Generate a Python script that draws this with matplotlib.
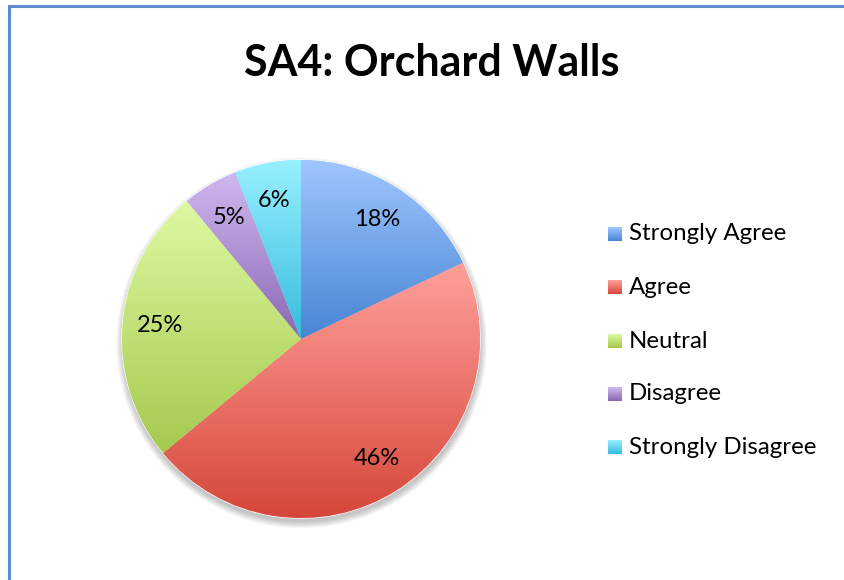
import numpy as np
import matplotlib
matplotlib.use("Agg")
import matplotlib.pyplot as plt
from matplotlib.patches import Rectangle, Circle
from matplotlib.colors import to_rgb

categories = ["Strongly Agree", "Agree", "Neutral", "Disagree", "Strongly Disagree"]
values = [18, 46, 25, 5, 6]
title = "SA4: Orchard Walls"
top_colors = ["#a0c6ff", "#ffa09b", "#def9a2", "#cfb8f0", "#98f0ff"]
bottom_colors = ["#4785d3", "#d6473a", "#a5c94e", "#8a68b3", "#37bcdd"]

W, H = 845, 580
fig = plt.figure(figsize=(W / 100, H / 100), dpi=100)
FONT = "Lato"

# chart frame
fig.patches.append(Rectangle((9 / W, -0.1), 1.2, (H - 6) / H + 0.1, transform=fig.transFigure,
                             fill=False, edgecolor="#5b8bd0", linewidth=2.2, zorder=0))

fig.text(432 / W, 1 - 63 / H, title, ha="center", va="center", fontsize=31,
         fontweight="bold", family=FONT)

cx, cy, r = 301, 339, 179
pad = 1.15
ax = fig.add_axes([(cx - r * pad) / W, (H - cy - r * pad) / H, 2 * r * pad / W, 2 * r * pad / H])
ax.set_xlim(-pad, pad)
ax.set_ylim(-pad, pad)
ax.set_aspect("equal")
ax.axis("off")

# soft shadow
for i in range(10):
    ax.add_patch(Circle((0.004, -0.022), 1.0 + 0.004 * i, color="black", alpha=0.022,
                        linewidth=0, zorder=0))
ax.add_patch(Circle((0, 0), 1.0, color="white", zorder=0.5))

wedges, texts, autotexts = ax.pie(values, startangle=90, counterclock=False, radius=1,
                                  colors=top_colors, autopct="%1.0f%%", pctdistance=0.79,
                                  textprops=dict(fontsize=17, family=FONT, color="black"),
                                  wedgeprops=dict(linewidth=0))
for w, tc, bc in zip(wedges, top_colors, bottom_colors):
    w.set_zorder(1)
    bb = w.get_path().get_extents()
    t = np.linspace(0, 1, 256)[:, None, None]
    img = (1 - t) * np.array(to_rgb(tc)) + t * np.array(to_rgb(bc))
    im = ax.imshow(img, extent=(bb.x0, bb.x1, bb.y0, bb.y1), origin="upper",
                   aspect="auto", zorder=1.5, interpolation="bilinear")
    im.set_clip_path(w)
for t in autotexts:
    t.set_zorder(3)
ax.set_xlim(-pad, pad)
ax.set_ylim(-pad, pad)

# legend
lax = fig.add_axes([0, 0, 1, 1])
lax.set_xlim(0, W)
lax.set_ylim(H, 0)
lax.axis("off")
row_y = [234, 287, 341, 394, 447]
for name, y, tc, bc in zip(categories, row_y, top_colors, bottom_colors):
    t = np.linspace(0, 1, 32)[:, None, None]
    img = (1 - t) * np.array(to_rgb(tc)) + t * np.array(to_rgb(bc))
    lax.imshow(img, extent=(608, 622, y + 7, y - 7), aspect="auto", interpolation="bilinear")
    lax.text(629, y, name, ha="left", va="center", fontsize=17.3, family=FONT)
lax.set_xlim(0, W)
lax.set_ylim(H, 0)

fig.savefig("out.png", dpi=100)
